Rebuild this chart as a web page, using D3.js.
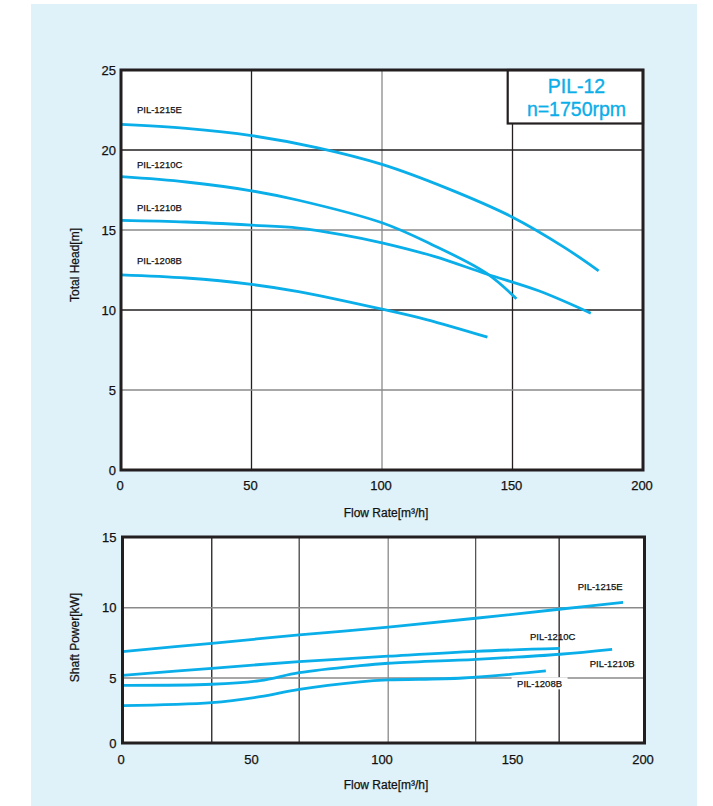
<!DOCTYPE html>
<html>
<head>
<meta charset="utf-8">
<script src="https://cdn.jsdelivr.net/npm/d3@7"></script>
<style>
  html, body { margin: 0; padding: 0; background: #ffffff; }
  svg { display: block; font-family: "Liberation Sans", Arial, Helvetica, sans-serif; }
</style>
</head>
<body>
<svg id="chart" width="713" height="806"></svg>
<script>
// ---------------- DATA ----------------
const seriesNames = ["PIL-1215E", "PIL-1210C", "PIL-1210B", "PIL-1208B"];

// Head curves: [flow m3/h, head m]
const head1215E = [[0,21.6],[25,21.35],[50,20.9],[75,20.15],[100,19.1],[125,17.6],[150,15.8],[170,13.9],[183,12.45]];
const head1210C = [[0,18.33],[25,18.0],[50,17.45],[68,16.86],[100,15.45],[119,14.1],[140,12.3],[151.5,10.7]];
const head1210B = [[0,15.6],[25,15.5],[50,15.3],[68,15.12],[85,14.7],[100,14.2],[120,13.35],[140,12.25],[160,11.2],[180,9.8]];
const head1208B = [[0,12.2],[25,12.0],[50,11.6],[68,11.15],[100,10.05],[117,9.4],[140.4,8.3]];

// Shaft power curves: [flow m3/h, power kW]
const power1215E = [[0,6.87],[34.2,7.47],[67.7,8.06],[101.8,8.62],[135.3,9.25],[167.3,9.89],[191.8,10.38]];
const power1210C = [[0,5.19],[34.2,5.69],[67.7,6.16],[101.8,6.55],[135.4,6.9],[167.6,7.1]];
const power1210B = [[0,4.44],[34.2,4.52],[52.7,4.8],[67.7,5.38],[91,5.88],[101.8,6.05],[135.4,6.33],[167.6,6.69],[187.6,7.04]];
const power1208B = [[0,2.87],[34.2,3.1],[52.7,3.56],[67.7,4.13],[91,4.7],[101.8,4.85],[130.4,5.0],[162.2,5.5]];

// Axis ticks
const flowTicks = [0, 50, 100, 150, 200];
const headTicks = [0, 5, 10, 15, 20, 25];
const powerTicks = [0, 5, 10, 15];
const powerGridX = [34.2, 67.7, 101.8, 135.3, 167.3];
const powerGridY = [5, 10];

// Titles
const titleLines = ["PIL-12", "n=1750rpm"];
const xTitle = "Flow Rate[m\u00B3/h]";
const yTitleHead = "Total Head[m]";
const yTitlePower = "Shaft Power[kW]";

// ---------------- LAYOUT / STYLE ----------------
const BLUE = "#0aaee9";
const DARK = "#231f20";
const GREY = "#8a8a8a";
const TXT = "#111111";

const svg = d3.select("#chart");
svg.append("rect").attr("x", 31).attr("y", 4).attr("width", 666).attr("height", 802).attr("fill", "#dff1f9");

function styleLabel(sel, size) {
  sel.attr("font-size", size).attr("fill", TXT)
     .attr("stroke", TXT).attr("stroke-width", 0.25)
     .attr("font-family", "Liberation Sans, Arial, sans-serif");
}

// ---------- TOP CHART ----------
const xTop = d3.scaleLinear().domain([0, 200]).range([121, 643]);
const yTop = d3.scaleLinear().domain([0, 25]).range([470, 70]);

const gTop = svg.append("g");
gTop.append("rect")
  .attr("x", xTop(0)).attr("y", yTop(25))
  .attr("width", xTop(200) - xTop(0)).attr("height", yTop(0) - yTop(25))
  .attr("fill", "#ffffff");

const topGridXColor = {50: DARK, 100: GREY, 150: DARK};
gTop.selectAll("line.gx").data([50, 100, 150]).enter().append("line").attr("class", "gx")
  .attr("x1", d => xTop(d)).attr("x2", d => xTop(d))
  .attr("y1", yTop(25)).attr("y2", yTop(0))
  .attr("stroke", d => topGridXColor[d]).attr("stroke-width", 1.3);
const topGridYColor = {5: GREY, 10: DARK, 15: GREY, 20: DARK};
gTop.selectAll("line.gy").data([5, 10, 15, 20]).enter().append("line").attr("class", "gy")
  .attr("x1", xTop(0)).attr("x2", xTop(200))
  .attr("y1", d => yTop(d)).attr("y2", d => yTop(d))
  .attr("stroke", d => topGridYColor[d]).attr("stroke-width", 1.3);

const lineTop = d3.line().x(d => xTop(d[0])).y(d => yTop(d[1])).curve(d3.curveCatmullRom.alpha(0.5));
const headSeries = [head1215E, head1210C, head1210B, head1208B];
gTop.selectAll("path.hc").data(headSeries).enter().append("path").attr("class", "hc")
  .attr("d", lineTop).attr("fill", "none").attr("stroke", BLUE).attr("stroke-width", 2.8);

const headLabelPos = [[6.1, 22.54], [6.1, 19.1], [6.1, 16.39], [6.1, 13.1]];
gTop.selectAll("text.hl").data(seriesNames).enter().append("text").attr("class", "hl")
  .attr("x", (d, i) => xTop(headLabelPos[i][0]))
  .attr("y", (d, i) => yTop(headLabelPos[i][1]))
  .attr("dy", "0.35em")
  .text(d => d)
  .call(styleLabel, 9.5);

// title box
const boxX = 507.7, boxY = yTop(25), boxW = xTop(200) - 507.7, boxH = 53.5;
gTop.append("rect").attr("x", boxX).attr("y", boxY).attr("width", boxW).attr("height", boxH)
  .attr("fill", "#ffffff").attr("stroke", DARK).attr("stroke-width", 2.2);
gTop.selectAll("text.tt").data(titleLines).enter().append("text").attr("class", "tt")
  .attr("x", 576.5).attr("y", (d, i) => 86 + i * 23.3).attr("dy", "0.35em")
  .attr("text-anchor", "middle").attr("font-size", 19.5).attr("fill", BLUE)
  .attr("stroke", BLUE).attr("stroke-width", 0.35)
  .text(d => d);

gTop.append("rect")
  .attr("x", xTop(0)).attr("y", yTop(25))
  .attr("width", xTop(200) - xTop(0)).attr("height", yTop(0) - yTop(25))
  .attr("fill", "none").attr("stroke", DARK).attr("stroke-width", 3);

const axBotTop = d3.axisBottom(xTop).tickValues(flowTicks).tickSize(0).tickPadding(0).tickFormat(d3.format("d"));
gTop.append("g").attr("transform", `translate(-1.5,${yTop(0) + 11})`).call(axBotTop)
  .call(g => g.select(".domain").remove())
  .selectAll("text").call(styleLabel, 13);
const axLeftTop = d3.axisLeft(yTop).tickValues(headTicks).tickSize(0).tickPadding(0).tickFormat(d3.format("d"));
gTop.append("g").attr("transform", `translate(${xTop(0) - 5},0)`).call(axLeftTop)
  .call(g => g.select(".domain").remove())
  .selectAll("text").call(styleLabel, 13);

gTop.append("text").attr("x", 386).attr("y", 512.5).attr("dy", "0.35em")
  .attr("text-anchor", "middle").text(xTitle).call(styleLabel, 12);
gTop.append("text").attr("transform", "translate(75,265) rotate(-90)").attr("dy", "0.35em")
  .attr("text-anchor", "middle").text(yTitleHead).call(styleLabel, 12);

// ---------- BOTTOM CHART ----------
const xBot = d3.scaleLinear().domain([0, 200]).range([122.5, 644.5]);
const yBot = d3.scaleLinear().domain([0, 5, 10, 15]).range([743, 678, 607.7, 537]);

const gBot = svg.append("g");
gBot.append("rect")
  .attr("x", xBot(0)).attr("y", yBot(15))
  .attr("width", xBot(200) - xBot(0)).attr("height", yBot(0) - yBot(15))
  .attr("fill", "#ffffff");

const botGridXColor = [DARK, "#444", GREY, "#555", DARK];
gBot.selectAll("line.bgx").data(powerGridX).enter().append("line").attr("class", "bgx")
  .attr("x1", d => xBot(d)).attr("x2", d => xBot(d))
  .attr("y1", yBot(15)).attr("y2", yBot(0))
  .attr("stroke", (d, i) => botGridXColor[i]).attr("stroke-width", 1.3);
gBot.selectAll("line.bgy").data(powerGridY).enter().append("line").attr("class", "bgy")
  .attr("x1", xBot(0)).attr("x2", xBot(200))
  .attr("y1", d => yBot(d)).attr("y2", d => yBot(d))
  .attr("stroke", GREY).attr("stroke-width", 1.5);

const lineBot = d3.line().x(d => xBot(d[0])).y(d => yBot(d[1])).curve(d3.curveCatmullRom.alpha(0.5));
const powerSeries = [power1215E, power1210C, power1210B, power1208B];
gBot.selectAll("path.pc").data(powerSeries).enter().append("path").attr("class", "pc")
  .attr("d", lineBot).attr("fill", "none").attr("stroke", BLUE).attr("stroke-width", 2.8);

// series labels (bottom), centered
const powerLabelPos = [[183, 11.49], [164.8, 7.94], [187.6, 6.0], [159.8, 4.59]];
// white patch behind PIL-1208B (it interrupts the 5 kW grid line)
gBot.append("rect")
  .attr("x", xBot(powerLabelPos[3][0]) - 28).attr("y", yBot(powerLabelPos[3][1]) - 6)
  .attr("width", 56).attr("height", 12).attr("fill", "#ffffff");
gBot.selectAll("text.pl").data(seriesNames).enter().append("text").attr("class", "pl")
  .attr("x", (d, i) => xBot(powerLabelPos[i][0]))
  .attr("y", (d, i) => yBot(powerLabelPos[i][1]))
  .attr("dy", "0.35em").attr("text-anchor", "middle")
  .text(d => d)
  .call(styleLabel, 9.5);

gBot.append("rect")
  .attr("x", xBot(0)).attr("y", yBot(15))
  .attr("width", xBot(200) - xBot(0)).attr("height", yBot(0) - yBot(15))
  .attr("fill", "none").attr("stroke", DARK).attr("stroke-width", 3);

const axBotBot = d3.axisBottom(xBot).tickValues(flowTicks).tickSize(0).tickPadding(0).tickFormat(d3.format("d"));
gBot.append("g").attr("transform", `translate(-2,${yBot(0) + 12})`).call(axBotBot)
  .call(g => g.select(".domain").remove())
  .selectAll("text").call(styleLabel, 13);
const axLeftBot = d3.axisLeft(yBot).tickValues(powerTicks).tickSize(0).tickPadding(0).tickFormat(d3.format("d"));
gBot.append("g").attr("transform", `translate(${xBot(0) - 6},0)`).call(axLeftBot)
  .call(g => g.select(".domain").remove())
  .selectAll("text").call(styleLabel, 13);

gBot.append("text").attr("x", 386).attr("y", 785).attr("dy", "0.35em")
  .attr("text-anchor", "middle").text(xTitle).call(styleLabel, 12);
gBot.append("text").attr("transform", "translate(75,637.5) rotate(-90)").attr("dy", "0.35em")
  .attr("text-anchor", "middle").text(yTitlePower).call(styleLabel, 12);
</script>
</body>
</html>
